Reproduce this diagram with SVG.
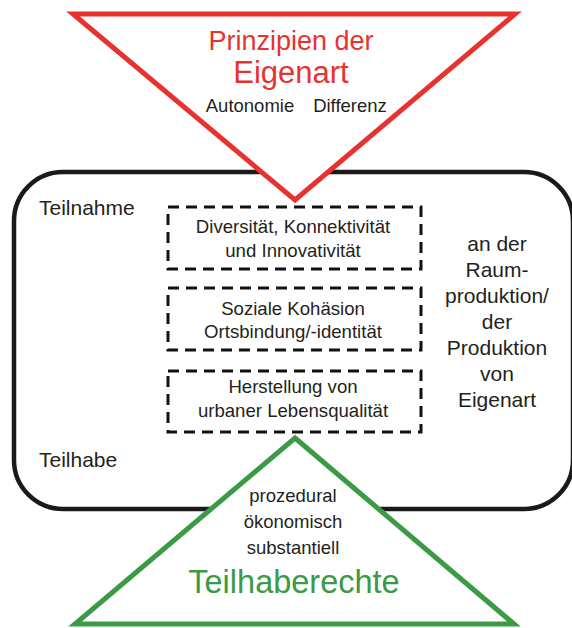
<svg xmlns="http://www.w3.org/2000/svg" width="572" height="628" viewBox="0 0 572 628">
<style>
text{font-family:"Liberation Sans",Arial,Helvetica,sans-serif;text-anchor:middle;fill:#231f20}
.dash{fill:none;stroke:#111;stroke-width:3;stroke-dasharray:11 7}
.box{font-size:18.6px}
.side{font-size:21px}
.red{fill:#e8322f}
.green{fill:#3a9a45}
</style>
<rect width="572" height="628" fill="#fff"/>
<g id="frame">
<rect x="14" y="172" width="559" height="337" rx="49" ry="49" fill="none" stroke="#1a1a1a" stroke-width="4.5"/>
<text x="39" y="215" class="side" style="text-anchor:start">Teilnahme</text>
<text x="39" y="467" class="side" style="text-anchor:start">Teilhabe</text>
</g>
<g id="side-label" class="side">
<text x="497" y="251">an der</text>
<text x="497" y="277">Raum-</text>
<text x="497" y="303">produktion/</text>
<text x="497" y="329">der</text>
<text x="497" y="355">Produktion</text>
<text x="497" y="381">von</text>
<text x="497" y="407">Eigenart</text>
</g>
<g id="box1">
<rect x="168" y="207" width="253" height="62" class="dash"/>
<text x="293" y="233" class="box">Diversität, Konnektivität</text>
<text x="293" y="257" class="box">und Innovativität</text>
</g>
<g id="box2">
<rect x="168" y="288" width="253" height="62" class="dash"/>
<text x="293" y="315" class="box">Soziale Kohäsion</text>
<text x="293" y="338" class="box">Ortsbindung/-identität</text>
</g>
<g id="box3">
<rect x="168" y="371" width="253" height="61" class="dash"/>
<text x="293" y="393" class="box">Herstellung von</text>
<text x="293" y="417" class="box">urbaner Lebensqualität</text>
</g>
<g id="principles">
<polygon points="73,14 515,14 295,200" fill="#fff" stroke="#e8322f" stroke-width="5" stroke-linejoin="miter"/>
<text x="291" y="50" class="red" style="font-size:27px">Prinzipien der</text>
<text x="291" y="83" class="red" style="font-size:31px">Eigenart</text>
<text x="250" y="112" style="font-size:18.5px">Autonomie</text>
<text x="350" y="112" style="font-size:18.5px">Differenz</text>
</g>
<g id="rights">
<polygon points="295,438 514,624 75,624" fill="#fff" stroke="#3a9a45" stroke-width="5" stroke-linejoin="miter"/>
<text x="293" y="502" style="font-size:18.5px">prozedural</text>
<text x="293" y="528" style="font-size:18.5px">ökonomisch</text>
<text x="293" y="554" style="font-size:18.5px">substantiell</text>
<text x="294" y="593" class="green" style="font-size:32.5px">Teilhaberechte</text>
</g>
</svg>
